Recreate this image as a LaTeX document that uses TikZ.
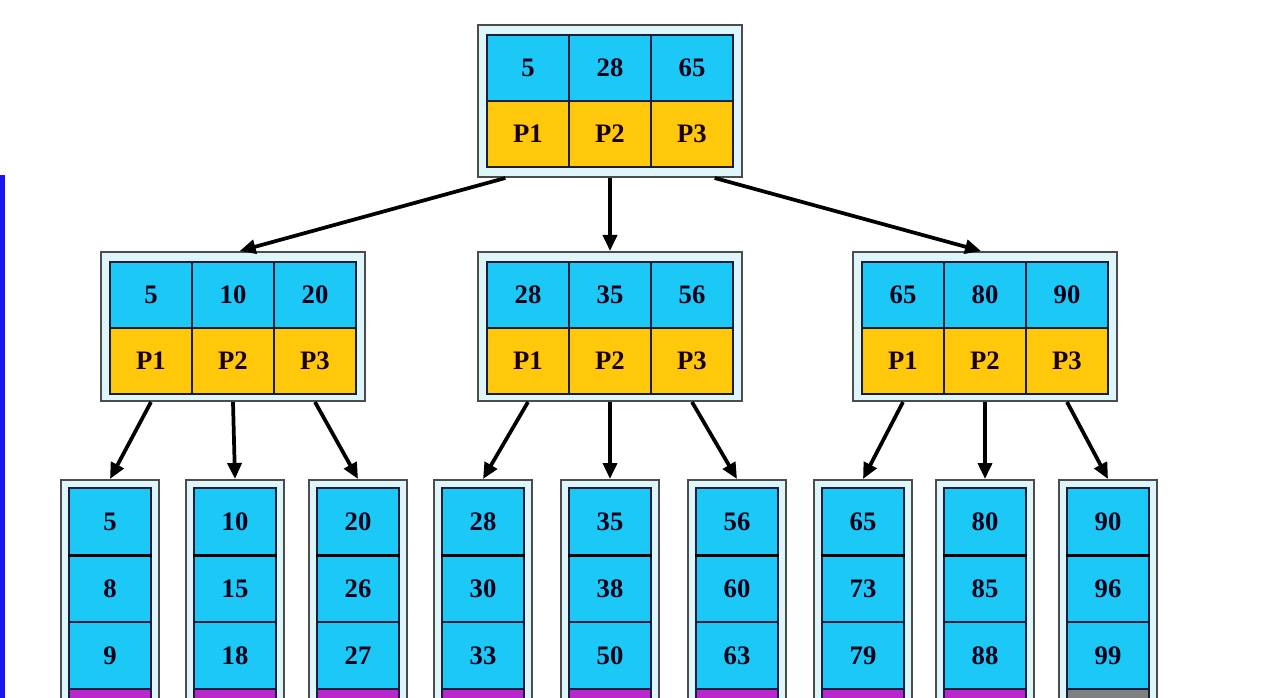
\documentclass[tikz,border=0pt]{standalone}
\usepackage{fontspec}
\setmainfont{Liberation Serif}
\usetikzlibrary{arrows.meta}

\definecolor{keyblue}{RGB}{28,200,245}
\definecolor{ptryellow}{RGB}{255,200,10}
\definecolor{framebg}{RGB}{222,246,250}
\definecolor{nextpurple}{RGB}{185,40,205}
\definecolor{sidebar}{RGB}{25,20,240}
\definecolor{cellline}{RGB}{25,30,60}

\tikzset{
  frame/.style={draw=black!70, line width=1.5pt, fill=framebg, inner sep=0pt},
  key/.style={draw=cellline, line width=1pt, fill=keyblue, inner sep=0pt,
    minimum width=61.5pt, minimum height=49.5pt,
    font=\bfseries\fontsize{20}{22}\selectfont, text=black!90!blue},
  ptr/.style={key, fill=ptryellow, text=black!90!red},
  leafkey/.style={key, minimum height=50.25pt},
  link/.style={-{Triangle[length=12pt,width=10.5pt]}, line width=2.8pt}
}

\begin{document}
\begin{tikzpicture}[x=0.75pt, y=-0.75pt]
  \useasboundingbox (0,0) rectangle (1280,698);
  \clip (0,0) rectangle (1280,698);
  \fill[sidebar] (0,175) rectangle (5,698);

  % root
  \node[frame, minimum width=198pt, minimum height=114pt] (root) at (610,101) {};
  \node[key] (root-k1) at (528,68) {5};
  \node[key] (root-k2) at (610,68) {28};
  \node[key] (root-k3) at (692,68) {65};
  \node[ptr] (root-p1) at (528,134) {P1};
  \node[ptr] (root-p2) at (610,134) {P2};
  \node[ptr] (root-p3) at (692,134) {P3};

  % second level
  \foreach \nm/\cx/\a/\b/\c in {midL/233/5/10/20, midC/610/28/35/56, midR/985/65/80/90} {
    \node[frame, minimum width=198pt, minimum height=111.75pt] (\nm) at (\cx,326.5) {};
    \node[key] (\nm-k1) at (\cx-82,295) {\a};
    \node[key] (\nm-k2) at (\cx,295) {\b};
    \node[key] (\nm-k3) at (\cx+82,295) {\c};
    \node[ptr] (\nm-p1) at (\cx-82,361) {P1};
    \node[ptr] (\nm-p2) at (\cx,361) {P2};
    \node[ptr] (\nm-p3) at (\cx+82,361) {P3};
  }

  % leaves
  \foreach \i/\cx/\a/\b/\c/\tail in {1/110/5/8/9/nextpurple, 2/235/10/15/18/nextpurple,
      3/358/20/26/27/nextpurple, 4/483/28/30/33/nextpurple, 5/610/35/38/50/nextpurple,
      6/737/56/60/63/nextpurple, 7/863/65/73/79/nextpurple, 8/985/80/85/88/nextpurple,
      9/1108/90/96/99/gray} {
    \node[frame, anchor=north, minimum width=73.5pt, minimum height=200pt] (leaf\i) at (\cx,479) {};
    \node[leafkey] (leaf\i-k1) at (\cx,521.5) {\a};
    \node[leafkey] (leaf\i-k2) at (\cx,588.5) {\b};
    \node[leafkey] (leaf\i-k3) at (\cx,655.5) {\c};
    \node[leafkey, fill=\tail] (leaf\i-nx) at (\cx,722.5) {};
    \draw[line width=2pt] (leaf\i-k1.south west) -- (leaf\i-k1.south east);
  }

  % pointers
  \draw[link] ([xshift=-17pt]root-p1.south |- root.south) -- ([xshift=5pt]midL.north);
  \draw[link] (root-p2.south |- root.south) -- (midC.north);
  \draw[link] ([xshift=17pt]root-p3.south |- root.south) -- ([xshift=-3pt]midR.north);
  \foreach \nm/\i/\j/\k in {midL/1/2/3, midC/4/5/6, midR/7/8/9} {
    \draw[link] (\nm-p1.south |- \nm.south) -- (leaf\i.north);
    \draw[link] (\nm-p2.south |- \nm.south) -- (leaf\j.north);
    \draw[link] (\nm-p3.south |- \nm.south) -- (leaf\k.north);
  }
\end{tikzpicture}
\end{document}
